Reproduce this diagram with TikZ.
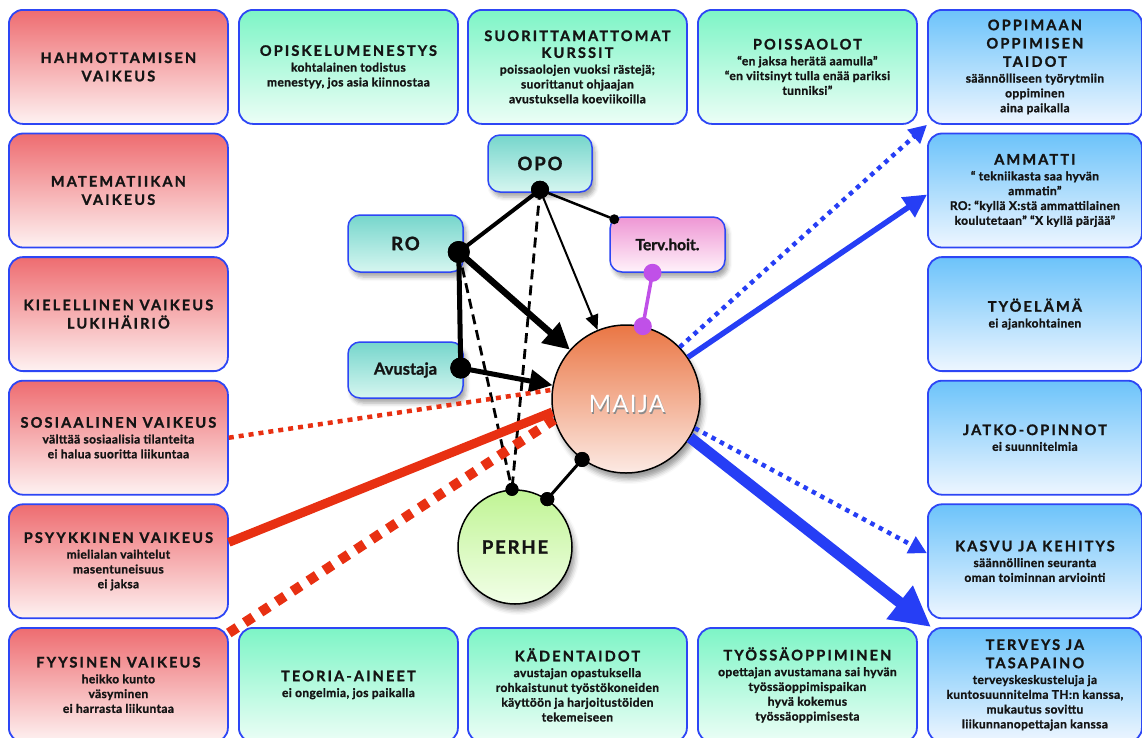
\documentclass[tikz,border=0pt]{standalone}
\usepackage{fontspec}
\setmainfont{Lato}[BoldFeatures={FakeBold=1.3}]
\usetikzlibrary{positioning,arrows.meta,shadows.blur}
\definecolor{frameblue}{RGB}{45,70,245}
\definecolor{redtop}{RGB}{238,108,112}
\definecolor{redbot}{RGB}{254,242,242}
\definecolor{grntop}{RGB}{125,245,198}
\definecolor{grnbot}{RGB}{236,254,246}
\definecolor{blutop}{RGB}{108,195,250}
\definecolor{blubot}{RGB}{238,246,255}
\definecolor{tealtop}{RGB}{118,214,204}
\definecolor{tealbot}{RGB}{214,246,240}
\definecolor{pinktop}{RGB}{238,150,212}
\definecolor{pinkbot}{RGB}{255,242,250}
\definecolor{maijatop}{RGB}{234,118,68}
\definecolor{maijabot}{RGB}{252,234,228}
\definecolor{perhetop}{RGB}{192,244,148}
\definecolor{perhebot}{RGB}{242,255,232}
\definecolor{ink}{RGB}{20,20,20}
\definecolor{redline}{RGB}{232,48,18}
\definecolor{blueline}{RGB}{38,62,245}
\definecolor{violetline}{RGB}{192,80,232}
\newcommand\ttl[1]{{\fontsize{14.5}{14.5}\selectfont\addfontfeatures{LetterSpace=15}#1}}
\begin{document}
\begin{tikzpicture}[x=1pt,y=-1pt]
\tikzset{box/.style={draw=frameblue,line width=1.8pt,rounded corners=14pt,anchor=north west,
    minimum width=219pt,minimum height=114pt,align=center,text=ink,
    font=\fontsize{12}{14.8}\selectfont\bfseries\addfontfeatures{LetterSpace=3}}}
\tikzset{redbox/.style={box,top color=redtop,bottom color=redbot}}
\tikzset{grnbox/.style={box,top color=grntop,bottom color=grnbot}}
\tikzset{blubox/.style={box,top color=blutop,bottom color=blubot,minimum width=214pt}}
\tikzset{actor/.style={draw=frameblue,line width=1.5pt,rounded corners=12pt,text=ink,
    minimum width=115pt,minimum height=56pt,top color=tealtop,bottom color=tealbot,
    font=\fontsize{18.5}{18}\selectfont\bfseries\addfontfeatures{LetterSpace=10},
    blur shadow={shadow xshift=3pt,shadow yshift=-5pt,shadow blur radius=4pt,shadow opacity=35}}}
\tikzset{ball/.style={circle,draw=black,line width=1.5pt,text=ink,
    blur shadow={shadow xshift=3pt,shadow yshift=-6pt,shadow blur radius=5pt,shadow opacity=40}}}
\tikzset{dot/.style={circle,fill=black,inner sep=0pt,minimum size=#1},dot/.default=18pt}
\tikzset{blk/.style={draw=black,line cap=round}}
\tikzset{dashline/.style={draw=black,line width=2.8pt,dash pattern=on 10pt off 6pt}}
\useasboundingbox (0,0) rectangle (1142,737);
% left column
\node[redbox] (hah) at (8,9) {\ttl{HAHMOTTAMISEN}\\[3.5pt]\ttl{VAIKEUS}};
\node[redbox] (mat) at (8,132.6) {\ttl{MATEMATIIKAN}\\[3.5pt]\ttl{VAIKEUS}};
\node[redbox] (kie) at (8,256.2) {\ttl{KIELELLINEN VAIKEUS}\\[3.5pt]\ttl{LUKIHÄIRIÖ}};
\node[redbox] (sos) at (8,379.8) {\ttl{SOSIAALINEN VAIKEUS}\\[1pt]välttää sosiaalisia tilanteita\\ei halua suoritta liikuntaa};
\node[redbox] (psy) at (8,503.4) {\ttl{PSYYKKINEN VAIKEUS}\\[1pt]mielialan vaihtelut\\masentuneisuus\\ei jaksa};
\node[redbox] (fyy) at (8,627) {\ttl{FYYSINEN VAIKEUS}\\[1pt]heikko kunto\\väsyminen\\ei harrasta liikuntaa};
% top row
\node[grnbox] (opi) at (238,9) {\ttl{OPISKELUMENESTYS}\\[1pt]kohtalainen todistus\\menestyy, jos asia kiinnostaa};
\node[grnbox] (suo) at (467,9) {\ttl{SUORITTAMATTOMAT}\\[2pt]\ttl{KURSSIT}\\[1pt]poissaolojen vuoksi rästejä;\\suorittanut ohjaajan\\avustuksella koeviikoilla};
\node[grnbox] (poi) at (697,9) {\ttl{POISSAOLOT}\\[1pt]“en jaksa herätä aamulla”\\“en viitsinyt tulla enää pariksi\\tunniksi”};
% right column
\node[blubox] (opp) at (927,9) {\ttl{OPPIMAAN}\\[3.5pt]\ttl{OPPIMISEN}\\[3.5pt]\ttl{TAIDOT}\\[1pt]säännölliseen työrytmiin\\oppiminen\\aina paikalla};
\node[blubox] (amm) at (927,132.6) {\ttl{AMMATTI}\\[1pt]“ tekniikasta saa hyvän\\ammatin”\\RO: “kyllä X:stä ammattilainen\\koulutetaan” “X kyllä pärjää”};
\node[blubox] (tyo) at (927,256.2) {\ttl{TYÖELÄMÄ}\\[1pt]ei ajankohtainen};
\node[blubox] (jat) at (927,379.8) {\ttl{JATKO-OPINNOT}\\[1pt]ei suunnitelmia};
\node[blubox] (kas) at (927,503.4) {\ttl{KASVU JA KEHITYS}\\[1pt]säännöllinen seuranta\\oman toiminnan arviointi};
\node[blubox] (ter) at (927,627) {\ttl{TERVEYS JA}\\[3.5pt]\ttl{TASAPAINO}\\[1pt]terveyskeskusteluja ja\\kuntosuunnitelma TH:n kanssa,\\mukautus sovittu\\liikunnanopettajan kanssa};
% bottom row
\node[grnbox] (teo) at (238,627) {\ttl{TEORIA-AINEET}\\[1pt]ei ongelmia, jos paikalla};
\node[grnbox] (kad) at (467,627) {\ttl{KÄDENTAIDOT}\\[1pt]avustajan opastuksella\\rohkaistunut työstökoneiden\\käyttöön ja harjoitustöiden\\tekemeiseen};
\node[grnbox] (tys) at (697,627) {\ttl{TYÖSSÄOPPIMINEN}\\[1pt]opettajan avustamana sai hyvän\\työssäoppimispaikan\\hyvä kokemus\\työssäoppimisesta};
% actors
\node[actor,minimum width=104pt,minimum height=57pt] (opo) at (540,163.5) {OPO};
\node[actor,minimum height=57pt] (ro) at (405.5,243.5) {RO};
\node[actor,font=\fontsize{16.5}{16}\selectfont\bfseries] (avu) at (405.5,370) {Avustaja};
\node[actor,minimum height=55pt,top color=pinktop,bottom color=pinkbot,
  font=\fontsize{15.5}{15}\selectfont\bfseries] (tv) at (667.5,244.5) {Terv.hoit.};
\node[ball,minimum size=114pt,top color=perhetop,bottom color=perhebot,
  font=\fontsize{18.5}{18}\selectfont\bfseries\addfontfeatures{LetterSpace=10}] (perhe) at (515,547) {PERHE};
\node[ball,minimum size=148pt,top color=maijatop,bottom color=maijabot] (maija) at (626,399) {};
\node[text=black!45,font=\fontsize{24}{24}\selectfont\addfontfeatures{LetterSpace=5}] (maija-s) at (628,405.5) {MAIJA};
\node[text=white,font=\fontsize{24}{24}\selectfont\addfontfeatures{LetterSpace=5}] (maija-t) at (627,403.5) {MAIJA};
% end points
\node[dot] (opo-d) at ([yshift=3pt]opo.south) {};
\node[dot=22pt] (ro-d) at ([xshift=-5pt,yshift=-8.5pt]ro.east) {};
\node[dot=21pt] (avu-d) at ([xshift=-3pt,yshift=2pt]avu.east) {};
\node[dot=10pt] (tv-d) at ([xshift=5pt,yshift=-3pt]tv.north west) {};
\node[dot=13pt] (ph-d1) at (perhe.93) {};
\node[dot=14pt] (ph-d2) at (perhe.56) {};
\node[dot=15pt] (mj-d2) at (maija.234) {};
% connectors
\draw[blk,line width=4pt] (opo-d) -- (ro-d);
\draw[blk,line width=2.5pt] (opo-d) -- (tv-d);
\draw[blk,line width=2pt,-{Triangle[length=15pt,width=13pt]}] (opo-d) -- (maija);
\draw[dashline] (opo-d.center) -- (ph-d1.center);
\draw[dashline] (ro-d.center) -- (ph-d1.center);
\draw[blk,line width=5pt] (ro-d) -- (avu-d);
\draw[blk,line width=6.5pt,-{Triangle[length=26pt,width=26pt]}] (ro-d) -- (maija);
\draw[blk,line width=5pt,-{Triangle[length=23pt,width=22pt]}] (avu-d) -- (maija);
\draw[blk,line width=3pt] (mj-d2) -- (ph-d2);
\draw[violetline,line width=3.5pt] ([xshift=-15pt]tv.south) -- (maija.77);
\node[dot=18pt,fill=violetline] (tv-d2) at ([xshift=-15pt]tv.south) {};
\node[dot=18pt,fill=violetline] (mj-d1) at (maija.77) {};
\node[dot=15pt] (mj-d2b) at (mj-d2) {};
\node[dot=13pt] (ph-d1b) at (ph-d1) {};
\node[dot=14pt] (ph-d2b) at (ph-d2) {};
\node[dot] (opo-db) at (opo-d) {};
\node[dot=22pt] (ro-db) at (ro-d) {};
\node[dot=21pt] (avu-db) at (avu-d) {};
% problems
\draw[redline,line width=4.5pt,dash pattern=on 5pt off 5pt] (sos.east) -- (maija.173);
\draw[redline,line width=9pt] ([yshift=19pt]psy.east) -- (maija.190);
\draw[redline,line width=10pt,dash pattern=on 10pt off 9pt] ([yshift=-6pt]fyy.north east) -- (maija.196);
% goals
\draw[blueline,line width=4.5pt,dash pattern=on 4.5pt off 5pt,-{Triangle[length=18pt,width=18pt]}] (maija.44) -- (opp.south west);
\draw[blueline,line width=5.5pt,-{Triangle[length=23pt,width=23pt]}] (maija.34) -- ([yshift=-4pt]amm.west);
\draw[blueline,line width=4.5pt,dash pattern=on 4.5pt off 5pt,-{Triangle[length=18pt,width=18pt]}] (maija.-23) -- ([yshift=8pt]kas.west);
\draw[blueline,line width=11pt,-{Triangle[length=40pt,width=40pt]}] (maija.-31) -- ([xshift=4pt]ter.north west);
\end{tikzpicture}
\end{document}
